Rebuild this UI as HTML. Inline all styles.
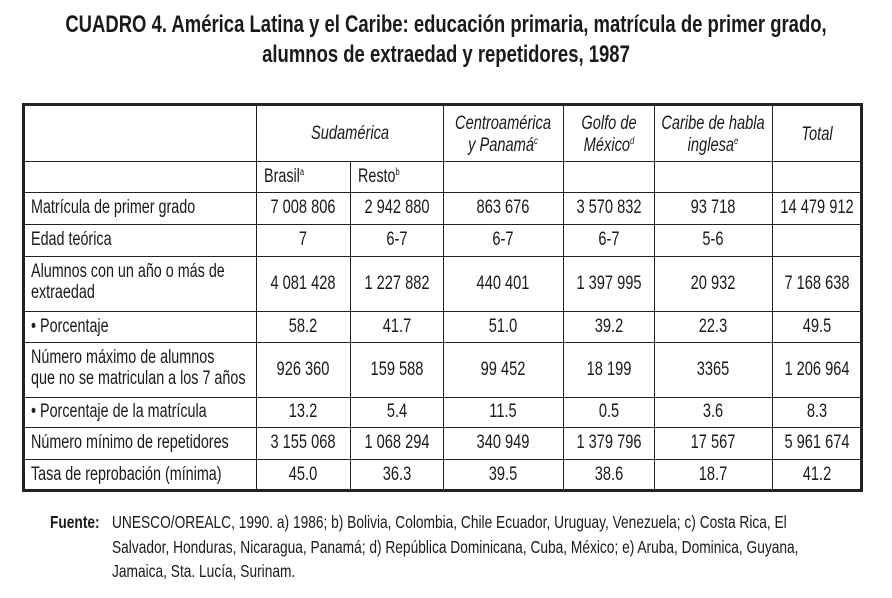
<!DOCTYPE html>
<html><head><meta charset="utf-8"><style>
body{margin:0;width:892px;height:598px;background:#fff;position:relative;overflow:hidden;font-family:"Liberation Sans",sans-serif;color:#1a1a1a}
.t{position:absolute;white-space:nowrap;font-size:19px;line-height:20px}
.c{transform:translateX(-50%) scaleX(0.77)}
.l{transform:scaleX(0.755);transform-origin:left center}
.hl{position:absolute;height:1px;background:#222}
.vl{position:absolute;width:1px;background:#222}
sup{font-size:10px;vertical-align:7px;line-height:0}
i{font-style:italic}
</style></head><body>
<div class="t c" style="left:446px;top:12px;font-size:24px;line-height:26px;font-weight:bold;transform:translateX(-50%) scaleX(0.77)">CUADRO 4. América Latina y el Caribe: educación primaria, matrícula de primer grado,</div>
<div class="t c" style="left:446px;top:42px;font-size:24px;line-height:26px;font-weight:bold;transform:translateX(-50%) scaleX(0.77)">alumnos de extraedad y repetidores, 1987</div>
<div id="tbl"></div>
<div class="t l" style="left:50px;top:512px;font-size:17.5px;font-weight:bold;transform:scaleX(0.785)">Fuente:</div>
<div class="t l" style="left:112px;top:512px;font-size:17.5px;transform:scaleX(0.785)">UNESCO/OREALC, 1990. a) 1986; b) Bolivia, Colombia, Chile Ecuador, Uruguay, Venezuela; c) Costa Rica, El</div>
<div class="t l" style="left:112px;top:537px;font-size:17.5px;transform:scaleX(0.785)">Salvador, Honduras, Nicaragua, Panamá; d) República Dominicana, Cuba, México; e) Aruba, Dominica, Guyana,</div>
<div class="t l" style="left:112px;top:561px;font-size:17.5px;transform:scaleX(0.785)">Jamaica, Sta. Lucía, Surinam.</div>
<script>
const rowLabels=[["Matrícula de primer grado"],["Edad teórica"],["Alumnos con un año o más de","extraedad"],["• Porcentaje"],["Número máximo de alumnos","que no se matriculan a los 7 años"],["• Porcentaje de la matrícula"],["Número mínimo de repetidores"],["Tasa de reprobación (mínima)"]];
const colBrasil=["7 008 806","7","4 081 428","58.2","926 360","13.2","3 155 068","45.0"];
const colResto=["2 942 880","6-7","1 227 882","41.7","159 588","5.4","1 068 294","36.3"];
const colCentro=["863 676","6-7","440 401","51.0","99 452","11.5","340 949","39.5"];
const colGolfo=["3 570 832","6-7","1 397 995","39.2","18 199","0.5","1 379 796","38.6"];
const colCaribe=["93 718","5-6","20 932","22.3","3365","3.6","17 567","18.7"];
const colTotal=["14 479 912","","7 168 638","49.5","1 206 964","8.3","5 961 674","41.2"];
const root=document.getElementById('tbl');
const X=[23,256,350,443,563,654,772,861];
const Y=[105,161,192,224,256,311,342,397,427,459,490];
function line(cls,l,t,w,h,name){const d=document.createElement('div');d.className=cls;d.style.left=l+'px';d.style.top=t+'px';if(w)d.style.width=w+'px';if(h)d.style.height=h+'px';


root.appendChild(d);}
function txt(html,x,y,center,name){const d=document.createElement('div');d.className='t '+(center?'c':'l');d.innerHTML=html;d.style.left=x+'px';d.style.top=y+'px';


root.appendChild(d);}
line('hl',X[0]-1,Y[0]-2,X[7]-X[0]+3,3,'table-top-border');
line('hl',X[0]-1,Y[10]-1,X[7]-X[0]+3,3,'table-bottom-border');
line('vl',X[0]-1,Y[0]-2,0,Y[10]-Y[0]+4,'table-left-border');root.lastChild.style.width='3px';
line('vl',X[7]-1,Y[0]-2,0,Y[10]-Y[0]+4,'table-right-border');root.lastChild.style.width='3px';
for(let i=1;i<10;i++){line('hl',X[0],Y[i],X[7]-X[0],0,'row-divider');}
for(let j=1;j<7;j++){const top=(j==2)?Y[1]:Y[0];line('vl',X[j],top,0,Y[10]-top,'column-divider');}
const cx=j=>(X[j]+X[j+1])/2;
txt('<i>Sudamérica</i>',(X[1]+X[3])/2,124,true,'header-sudamerica');
txt('<i>Centroamérica</i>',cx(3),114,true,'header-centroamerica');
txt('<i>y Panamá<sup>c</sup></i>',cx(3),136,true,'header-centroamerica');
txt('<i>Golfo de</i>',cx(4),114,true,'header-golfo');
txt('<i>México<sup>d</sup></i>',cx(4),136,true,'header-golfo');
txt('<i>Caribe de habla</i>',cx(5),114,true,'header-caribe');
txt('<i>inglesa<sup>e</sup></i>',cx(5),136,true,'header-caribe');
txt('<i>Total</i>',cx(6),125,true,'header-total');
txt('Brasil<sup>a</sup>',264,167,false,'header-brasil');
txt('Resto<sup>b</sup>',358,167,false,'header-resto');
const cols=[colBrasil,colResto,colCentro,colGolfo,colCaribe,colTotal];
for(let r=0;r<8;r++){
 const t=Y[r+2],b=Y[r+3],m=(t+b)/2;
 const lab=rowLabels[r];
 if(lab.length==1) txt(lab[0],31,m-10,false,'row-label');
 else {txt(lab[0],31,m-22,false,'row-label');txt(lab[1],31,m-1,false,'row-label');}
 for(let j=0;j<6;j++) if(cols[j][r]) txt(cols[j][r],cx(j+1),m-10,true,'cell-value');
}
</script>
</body></html>
